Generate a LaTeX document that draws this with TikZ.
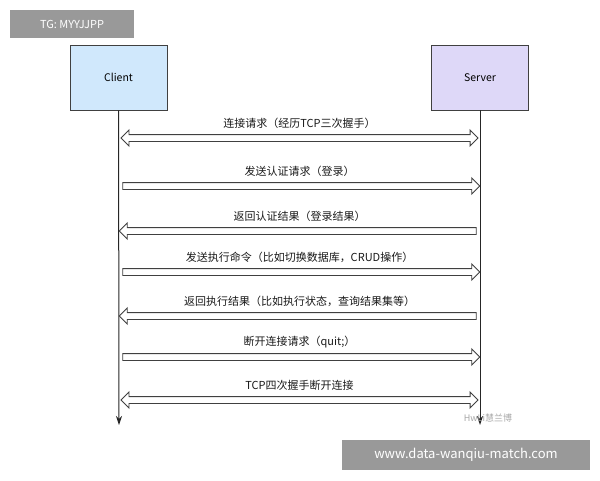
\documentclass[tikz,border=0pt]{standalone}
\usepackage{fontspec}
\setmainfont{Noto Sans CJK SC}
\usetikzlibrary{arrows.meta,positioning,calc,shapes.arrows}
\definecolor{clientfill}{RGB}{208,232,252}
\definecolor{serverfill}{RGB}{222,216,248}

\begin{document}
\begin{tikzpicture}[x=1pt,y=-1pt,>={Stealth[length=9pt,width=6pt]}]
        \tikzset{party/.style= {draw=black!75, line width=0.8pt, rectangle, align=center,minimum width=97pt,minimum height=65pt,font=\fontsize{10.5}{12}\selectfont},
        msg/.style={draw=black!75, fill=white, line width=0.9pt, inner sep=3pt, text height=0pt, text depth=0pt, minimum width=15pt, minimum height=357pt},
        tipboth/.style={msg, double arrow, double arrow head extend=4.5pt},
        tipright/.style={msg, single arrow, single arrow head extend=4.5pt},
        tipleft/.style={msg, single arrow, single arrow head extend=4.5pt, shape border rotate=180},
        lbl/.style={font=\fontsize{11}{12}\selectfont, text=black!90},
        wmark/.style={fill=black!40, text=white, inner sep=0pt}
        }
        \useasboundingbox (0,0) rectangle (600,480);
        \node [party, fill=clientfill] (client) at (118.5,77.5) {Client};
        \node [party, fill=serverfill] (server) at (480,77.5) {Server};
        \coordinate (cend) at (119,425);
        \coordinate (send) at (480,425);
        \draw[->, black!85, line width=1pt] (client) -- (cend);
        \draw[->, black!85, line width=1pt] (server) -- (send);
%%% messages
        \foreach \y/\tip/\txt in {
            138/tipboth/{连接请求（经历TCP三次握手）},
            186/tipright/{发送认证请求（登录）},
            231/tipleft/{返回认证结果（登录结果）},
            272/tipright/{发送执行命令（比如切换数据库，CRUD操作）},
            316/tipleft/{返回执行结果（比如执行状态，查询结果集等）},
            357/tipright/{断开连接请求（quit;）},
            400/tipboth/{TCP四次握手断开连接}}{
            \node [\tip] (m\y) at (299.5,\y) {};
            \node [lbl, above=2pt of m\y] {\txt};
        }
%%% watermarks
        \node [wmark, minimum width=124pt, minimum height=28pt, font=\fontsize{11}{12}\selectfont] (tg) at (72,24) {TG: MYYJJPP};
        \node [text=black!35, font=\fontsize{9}{10}\selectfont] (wx) at (488,418) {HwLi慧兰博};
        \node [wmark, minimum width=248pt, minimum height=30pt, font=\fontsize{13}{14}\selectfont] (www) at (466,455) {www.data-wanqiu-match.com};
    \end{tikzpicture}
\end{document}
